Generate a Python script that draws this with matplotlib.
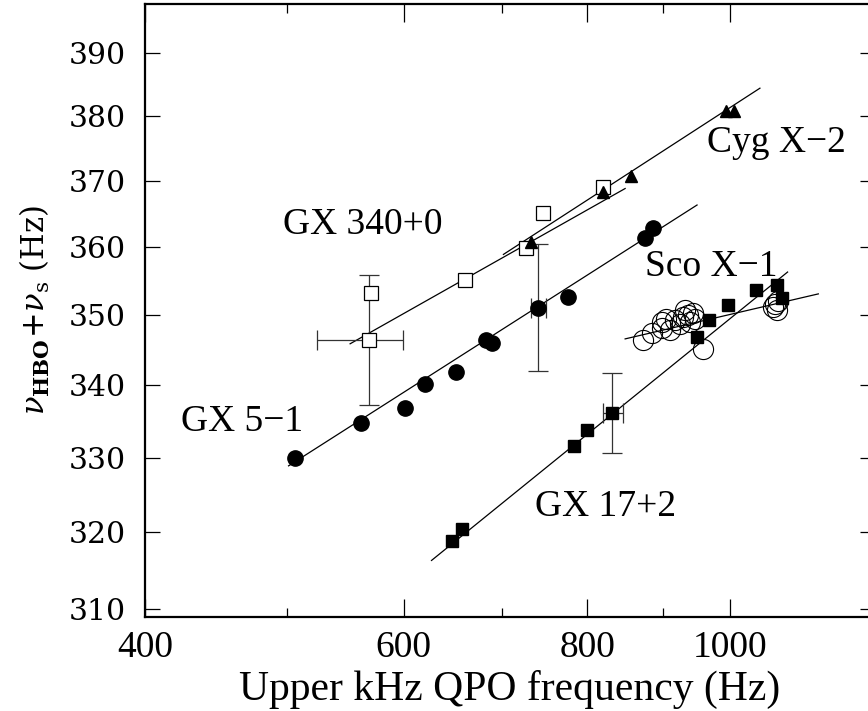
import matplotlib
matplotlib.use("Agg")
import matplotlib.pyplot as plt
from matplotlib.ticker import FixedLocator, NullLocator, NullFormatter

# GX 5-1 (filled circles)
gx51_f = [506.3, 560.7, 600.7, 620.2, 651.2, 682.2, 688.7, 740.2, 776.1, 875.5, 886.5]
gx51_v = [330.0, 334.8, 336.9, 340.2, 341.9, 346.5, 346.0, 351.0, 352.6, 361.4, 362.8]

# GX 340+0 (open squares)
gx340_f = [568.2, 570.0, 660.3, 727.0, 746.0, 819.8]
gx340_v = [346.5, 353.2, 355.1, 359.9, 365.1, 369.0]

# Cyg X-2 (filled triangles)
cyg_f = [732.2, 819.8, 856.5, 993.8, 1006.4]
cyg_v = [360.7, 368.2, 370.7, 380.8, 380.8]

# GX 17+2 (filled squares)
gx172_f = [646.7, 657.5, 783.4, 799.9, 831.9, 950.0, 968.1, 997.4, 1041.6, 1077.0, 1085.4]
gx172_v = [318.9, 320.4, 331.6, 333.8, 336.2, 346.8, 349.3, 351.5, 353.7, 354.4, 352.5]

# Sco X-1 (open circles)
sco_f = [873.2, 884.7, 898.7, 898.7, 917.6, 924.9, 929.7, 937.0, 944.3, 946.8, 939.4, 910.5,
         959.2, 1073.1, 1075.9, 1070.2, 1078.1, 905.0, 932.0]
sco_v = [346.4, 347.4, 348.1, 349.0, 349.3, 348.8, 349.8, 350.0, 350.3, 349.5, 349.0, 347.9,
         345.2, 351.7, 350.7, 351.2, 352.1, 349.5, 350.8]

# error bars: (f, v, f_lo, f_hi, v_lo, v_hi)
err_f = [568.2, 740.2, 831.9]
err_v = [346.5, 351.0, 336.2]
err_f_lo = [523.7, 732.2, 819.4]
err_f_hi = [599.2, 749.6, 845.5]
err_v_lo = [337.3, 342.0, 330.7]
err_v_hi = [355.8, 360.5, 341.8]

# fitted lines (end points)
fit_lines = {
    "GX 5-1": ([500.9, 949.8], [328.9, 366.3]),
    "GX 340+0": ([551.6, 848.6], [345.9, 368.8]),
    "Cyg X-2": ([701.3, 1048.1], [358.9, 384.4]),
    "GX 17+2": ([626.6, 1094.5], [316.3, 356.3]),
    "Sco X-1": ([848.6, 1148.5], [346.6, 353.1]),
}

# source labels
label_text = ["Cyg X\u22122", "GX 340+0", "Sco X\u22121", "GX 5\u22121", "GX 17+2"]
label_f = [965, 496.4, 875.5, 423.2, 736.8]
label_v = [375.8, 363.3, 357.1, 334.9, 323.4]

xticks_major = [400, 600, 800, 1000]
xticks_minor = [500, 700, 900]
yticks = [310, 320, 330, 340, 350, 360, 370, 380, 390]

serif = "Liberation Serif"
plt.rcParams["mathtext.fontset"] = "dejavuserif"

fig = plt.figure(figsize=(8.68, 7.11), dpi=100)
ax = fig.add_axes([0.167, 0.1322, 0.841, 0.8622])
ax.set_xscale("log")
ax.set_yscale("log")

for name, (lf, lv) in fit_lines.items():
    ax.plot(lf, lv, color="black", lw=0.9)

for i in range(len(err_f)):
    ax.errorbar([err_f[i]], [err_v[i]],
                xerr=[[err_f[i] - err_f_lo[i]], [err_f_hi[i] - err_f[i]]],
                yerr=[[err_v[i] - err_v_lo[i]], [err_v_hi[i] - err_v[i]]],
                fmt="none", ecolor="#333333", elinewidth=0.9, capsize=7, capthick=0.9)

ax.plot(sco_f, sco_v, "o", ms=14.5, mfc="none", mec="black", mew=0.8)
ax.plot(gx51_f, gx51_v, "o", ms=11, color="black")
ax.plot(gx340_f, gx340_v, "s", ms=10.5, mfc="white", mec="black", mew=0.9)
ax.plot(cyg_f, cyg_v, "^", ms=9, color="black")
ax.plot(gx172_f, gx172_v, "s", ms=8.5, color="black")

for t, f, v in zip(label_text, label_f, label_v):
    ax.text(f, v, t, fontsize=27, family=serif, ha="left", va="center")

ax.set_xlim(400, 1255)
ax.set_ylim(309, 398)

ax.xaxis.set_major_locator(FixedLocator(xticks_major))
ax.xaxis.set_minor_locator(FixedLocator(xticks_minor))
ax.xaxis.set_minor_formatter(NullFormatter())
ax.set_xticklabels([str(x) for x in xticks_major], family=serif, fontsize=27)
ax.yaxis.set_major_locator(FixedLocator(yticks))
ax.yaxis.set_minor_locator(NullLocator())
ax.set_yticklabels([str(y) for y in yticks], family="DejaVu Serif", fontsize=21.5)

ax.tick_params(axis="x", which="major", direction="in", length=13, width=0.9,
               top=True, pad=10)
ax.tick_params(axis="x", which="minor", direction="in", length=6.5, width=0.9, top=True)
ax.tick_params(axis="y", which="major", direction="in", length=11, width=0.9,
               right=True, pad=14)
for s in ax.spines.values():
    s.set_linewidth(1.6)

ax.set_xlabel("Upper kHz QPO frequency (Hz)", family=serif, fontsize=30, labelpad=3)
ax.set_ylabel(r"$\nu_{\mathsf{\mathbf{HBO}}}\!+\!\nu_{\rm s}$ (Hz)", family="DejaVu Serif",
              fontsize=22, labelpad=12)

fig.savefig("out.png", dpi=100)
